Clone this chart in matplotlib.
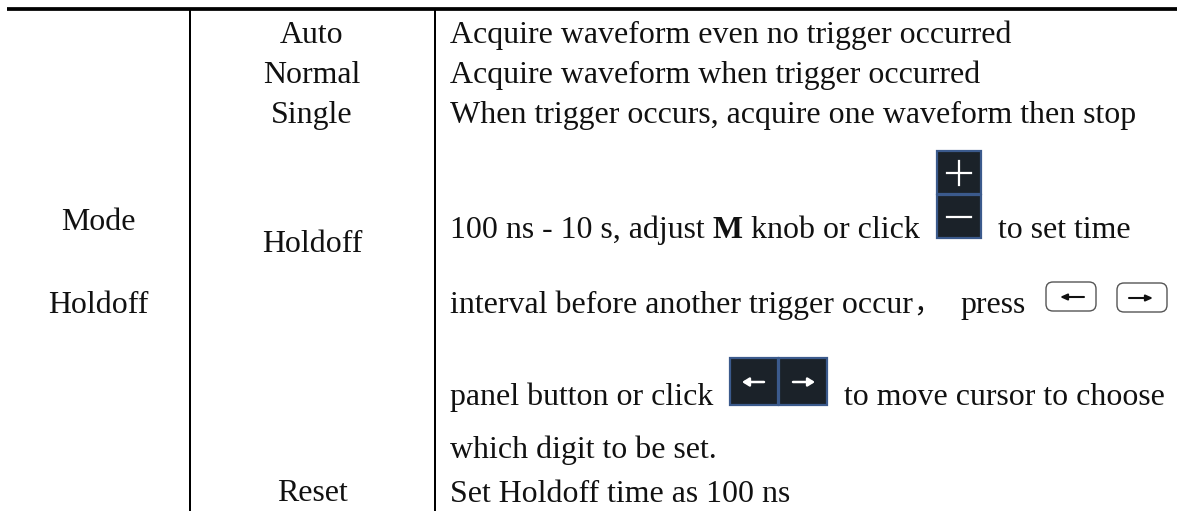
#!/usr/bin/python
# coding=utf-8
import matplotlib
matplotlib.use('Agg')
import matplotlib.pyplot as plt
from matplotlib.patches import Rectangle, FancyBboxPatch

# table content
col1_labels = ['Mode', 'Holdoff']
col2_labels = ['Auto', 'Normal', 'Single', 'Holdoff', 'Reset']
desc_plain = ['Acquire waveform even no trigger occurred',
              'Acquire waveform when trigger occurred',
              'When trigger occurs, acquire one waveform then stop',
              'which digit to be set.',
              'Set Holdoff time as 100 ns']
line_100ns = ['100 ns - 10 s, adjust ', 'M', ' knob or click']
tail_100ns = 'to set time'
line_interval = 'interval before another trigger occur'
comma = '，'
press = 'press'
line_panel = 'panel button or click'
tail_panel = 'to move cursor to choose'

FS = 22.92
FONT = ['Liberation Serif', 'Noto Sans CJK SC']
DARK = '#1b2229'
BLUE = '#3b5a8c'

fig = plt.figure(figsize=(11.77, 5.11), dpi=100)
ax = fig.add_axes([0, 0, 1, 1])
ax.set_xlim(0, 1177)
ax.set_ylim(511, 0)
ax.axis('off')


def txt(x, y, s, **kw):
    return ax.text(x, y, s, fontsize=FS, family=FONT, color='#111111',
                   va='baseline', **kw)


# 表格线
ax.plot([7, 1177], [9.2, 9.2], color='black', lw=2.7, solid_capstyle='butt')
ax.plot([190, 190], [11, 511], color='black', lw=1.44)
ax.plot([435, 435], [11, 511], color='black', lw=1.44)

for s, y in zip(col1_labels, [230, 313]):
    txt(98, y, s, ha='center')
for s, y in zip(col2_labels, [43, 83, 123, 252, 501]):
    txt(312, y, s, ha='center')
for s, y in zip(desc_plain, [43, 83, 123, 458, 502]):
    txt(450, y, s)

# 100 ns line, bold M in the middle
renderer = fig.canvas.get_renderer()
x = 450
for s in line_100ns:
    t = txt(x, 238, s, fontweight='bold' if s == 'M' else 'normal')
    x = ax.transData.inverted().transform(t.get_window_extent(renderer))[1][0]
txt(998, 238, tail_100ns)
txt(450, 313, line_interval)
ax.text(913, 313, comma, fontsize=FS - 3, family=['Noto Sans CJK SC'],
        color='#111111', va='baseline', fontweight='light')
txt(960, 313, press)
txt(450, 405, line_panel)
txt(844, 405, tail_panel)


def dark_button(x0, y0, x1, y1):
    ax.add_patch(Rectangle((x0, y0), x1 - x0, y1 - y0, fc=DARK, ec=BLUE, lw=1.6))


# +/- buttons
dark_button(937, 151, 981, 194)
dark_button(937, 195, 981, 238)
ax.plot([947, 971], [173, 173], color='white', lw=1.6)
ax.plot([959, 959], [161, 185], color='white', lw=1.6)
ax.plot([947, 971], [217, 217], color='white', lw=1.6)


def arrow(x0, x1, y, color, lw, hw=0.18):
    style = '-|>,head_length=0.4,head_width=%s' % hw
    ax.annotate('', xy=(x1, y), xytext=(x0, y),
                arrowprops=dict(arrowstyle=style, color=color, lw=lw,
                                shrinkA=0, shrinkB=0))


# cursor buttons
dark_button(730, 358, 778, 405)
dark_button(779, 358, 827, 405)
arrow(764, 742, 382, 'white', 1.8, 0.25)
arrow(793, 815, 382, 'white', 1.8, 0.25)


# panel keys
def key(x0, x1, y0, y1):
    ax.add_patch(FancyBboxPatch((x0 + 5, y0 + 5), x1 - x0 - 10, y1 - y0 - 10,
                                boxstyle='round,pad=5,rounding_size=7',
                                fc='white', ec='#555555', lw=1))


key(1046, 1096, 282, 311)
key(1117, 1167, 283, 312)
arrow(1084, 1060, 297, '#111111', 1.5)
arrow(1129, 1153, 298, '#111111', 1.5)

plt.savefig('out.png', dpi=100)
plt.close()
